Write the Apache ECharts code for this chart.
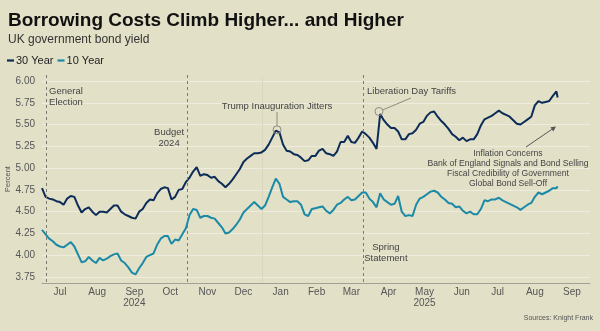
<!DOCTYPE html>
<html><head><meta charset="utf-8">
<script src="https://cdn.jsdelivr.net/npm/echarts@6/dist/echarts.min.js"></script>
<style>html,body{margin:0;padding:0;background:#e3e0c8}#c{width:600px;height:331px}</style>
</head><body><div id="c"></div>
<script>
const dates = [
'2024-07-01','2024-07-04','2024-07-07','2024-07-10','2024-07-13','2024-07-16','2024-07-19','2024-07-22','2024-07-25','2024-07-28','2024-07-31',
'2024-08-03','2024-08-06','2024-08-09','2024-08-12','2024-08-15','2024-08-18','2024-08-21','2024-08-24','2024-08-27','2024-08-30',
'2024-09-02','2024-09-05','2024-09-08','2024-09-11','2024-09-14','2024-09-17','2024-09-20','2024-09-23','2024-09-26','2024-09-29',
'2024-10-02','2024-10-05','2024-10-08','2024-10-11','2024-10-14','2024-10-17','2024-10-20','2024-10-23','2024-10-26','2024-10-29',
'2024-11-01','2024-11-04','2024-11-07','2024-11-10','2024-11-13','2024-11-16','2024-11-19','2024-11-22','2024-11-25','2024-11-28',
'2024-12-01','2024-12-04','2024-12-07','2024-12-10','2024-12-13','2024-12-16','2024-12-19','2024-12-22','2024-12-25','2024-12-28','2024-12-31',
'2025-01-03','2025-01-06','2025-01-09','2025-01-12','2025-01-15','2025-01-18','2025-01-21','2025-01-24','2025-01-27','2025-01-30',
'2025-02-02','2025-02-05','2025-02-08','2025-02-11','2025-02-14','2025-02-17','2025-02-20','2025-02-23','2025-02-26',
'2025-03-01','2025-03-04','2025-03-07','2025-03-10','2025-03-13','2025-03-16','2025-03-19','2025-03-22','2025-03-25','2025-03-28','2025-03-31',
'2025-04-03','2025-04-06','2025-04-09','2025-04-12','2025-04-15','2025-04-18','2025-04-21','2025-04-24','2025-04-27','2025-04-30',
'2025-05-03','2025-05-06','2025-05-09','2025-05-12','2025-05-15','2025-05-18','2025-05-21','2025-05-24','2025-05-27','2025-05-30',
'2025-06-02','2025-06-05','2025-06-08','2025-06-11','2025-06-14','2025-06-17','2025-06-20','2025-06-23','2025-06-26','2025-06-29',
'2025-07-02','2025-07-05','2025-07-08','2025-07-11','2025-07-14','2025-07-17','2025-07-20','2025-07-23','2025-07-26','2025-07-29',
'2025-08-01','2025-08-04','2025-08-07','2025-08-10','2025-08-13','2025-08-16','2025-08-19','2025-08-22','2025-08-25','2025-08-28','2025-08-31',
'2025-09-03','2025-09-04'
];
const yield30 = [
4.77,4.67,4.65,4.64,4.62,4.61,4.58,4.65,4.68,4.67,4.57,
4.49,4.53,4.55,4.50,4.46,4.50,4.50,4.49,4.53,4.57,
4.57,4.50,4.47,4.45,4.43,4.42,4.50,4.53,4.60,4.64,
4.63,4.71,4.76,4.78,4.77,4.64,4.67,4.75,4.76,4.84,
4.89,4.96,5.01,4.91,4.93,4.92,4.89,4.90,4.85,4.82,
4.78,4.82,4.87,4.93,4.99,5.07,5.11,5.14,5.17,5.17,5.18,
5.21,5.27,5.35,5.43,5.41,5.27,5.20,5.19,5.16,5.15,
5.12,5.08,5.09,5.14,5.14,5.20,5.22,5.17,5.16,
5.14,5.19,5.30,5.30,5.37,5.30,5.29,5.35,5.42,5.39,5.35,
5.29,5.22,5.62,5.55,5.50,5.46,5.46,5.42,5.33,5.33,
5.39,5.40,5.44,5.51,5.53,5.60,5.64,5.65,5.59,5.54,
5.50,5.45,5.39,5.36,5.32,5.35,5.31,5.33,5.33,5.39,
5.49,5.56,5.58,5.60,5.63,5.66,5.63,5.61,5.59,5.55,
5.51,5.50,5.53,5.56,5.59,5.72,5.77,5.75,5.76,5.77,5.83,
5.88,5.81
];
const yield10 = [
4.29,4.24,4.19,4.16,4.12,4.10,4.09,4.12,4.15,4.10,4.01,
3.92,3.93,3.98,3.94,3.91,3.97,3.94,3.96,3.99,4.01,
4.02,3.94,3.91,3.86,3.80,3.78,3.85,3.91,3.98,4.00,
4.02,4.12,4.19,4.22,4.22,4.13,4.18,4.17,4.24,4.31,
4.46,4.53,4.52,4.43,4.45,4.45,4.43,4.42,4.37,4.32,
4.25,4.26,4.30,4.35,4.41,4.49,4.53,4.57,4.61,4.57,4.53,
4.57,4.67,4.78,4.88,4.82,4.67,4.64,4.61,4.62,4.62,
4.58,4.47,4.45,4.53,4.54,4.55,4.56,4.51,4.48,
4.52,4.58,4.60,4.64,4.67,4.63,4.64,4.68,4.72,4.72,4.65,
4.61,4.55,4.71,4.64,4.61,4.58,4.59,4.68,4.50,4.45,
4.46,4.45,4.58,4.65,4.67,4.70,4.73,4.74,4.72,4.67,
4.64,4.60,4.59,4.55,4.56,4.51,4.48,4.50,4.47,4.47,
4.53,4.63,4.62,4.64,4.64,4.66,4.63,4.61,4.59,4.57,
4.55,4.52,4.55,4.58,4.60,4.67,4.72,4.70,4.72,4.74,4.77,
4.77,4.79
];
const monthTickDates = ['2024-07-16','2024-08-16','2024-09-16','2024-10-16','2024-11-16','2024-12-16','2025-01-16','2025-02-15','2025-03-16','2025-04-16','2025-05-16','2025-06-16','2025-07-16','2025-08-16','2025-09-16'];
const monthTickLabels = ['Jul','Aug','Sep\n2024','Oct','Nov','Dec','Jan','Feb','Mar','Apr','May\n2025','Jun','Jul','Aug','Sep'];
const eventDates = ['2024-07-04','2024-10-30','2025-03-26'];
const eventLabels = ['General\nElection','Budget\n2024','Spring\nStatement'];
const yearBoundary = '2025-01-01';
const trumpPoint = ['2025-01-13', 5.44];
const liberationPoint = ['2025-04-08', 5.65];

const toTime = s => { const p = s.split('-').map(Number); return Date.UTC(p[0], p[1]-1, p[2]); };
const tickTimes = monthTickDates.map(toTime);
const FONT = '"Liberation Sans", Arial, sans-serif';

const chart = echarts.init(document.getElementById('c'), null, {renderer: 'canvas'});
chart.setOption({
  backgroundColor: '#e3e0c8',
  animation: false,
  textStyle: {fontFamily: FONT},
  title: {
    left: 3, top: 6, itemGap: 4,
    text: 'Borrowing Costs Climb Higher... and Higher',
    textStyle: {fontSize: 19, fontWeight: 'bold', color: '#111', fontFamily: FONT},
    subtext: 'UK government bond yield',
    subtextStyle: {fontSize: 12, color: '#333', fontFamily: FONT}
  },
  legend: {
    left: 2, top: 50, icon: 'rect', itemWidth: 7, itemHeight: 2.2, itemGap: 4,
    textStyle: {fontSize: 11, color: '#222', padding: [0, 0, 0, -3]},
    data: ['30 Year', '10 Year']
  },
  grid: {left: 42, right: 10, top: 81, bottom: 54, containLabel: false, outerBoundsMode: 'none'},
  xAxis: {
    type: 'value',
    min: toTime('2024-07-01'), max: toTime('2025-10-01'),
    offset: 6,
    axisLine: {show: true, lineStyle: {color: '#a3a195', width: 1}},
    axisTick: {show: false},
    splitLine: {show: false},
    axisLabel: {
      customValues: tickTimes,
      fontSize: 10, color: '#555', margin: 4, lineHeight: 11,
      formatter: v => { let best = -1, bd = Infinity; tickTimes.forEach((t, i) => { const d = Math.abs(t - v); if (d < bd) { bd = d; best = i; } }); return bd < 86400000 ? monthTickLabels[best] : ''; }
    }
  },
  yAxis: {
    type: 'value', min: 3.75, max: 6.0, interval: 0.25,
    name: 'Percent', nameLocation: 'middle', nameGap: 30, nameRotate: 90, nameMoveOverlap: false,
    nameTextStyle: {fontSize: 7.5, color: '#555'},
    axisLine: {show: false}, axisTick: {show: false},
    axisLabel: {fontSize: 10, color: '#555', margin: 7, formatter: v => v.toFixed(2)},
    splitLine: {lineStyle: {color: '#eeecdc', width: 1}}
  },
  series: [
    {name: '30 Year', type: 'line', showSymbol: false, symbol: 'none', color: '#0c2c58',
     lineStyle: {width: 2, color: '#0c2c58'}, data: dates.map((d, i) => [toTime(d), yield30[i]])},
    {name: '10 Year', type: 'line', showSymbol: false, symbol: 'none', color: '#1a8aa6',
     lineStyle: {width: 2, color: '#1a8aa6'}, data: dates.map((d, i) => [toTime(d), yield10[i]])}
  ]
});

function px(d, v) { return chart.convertToPixel({gridIndex: 0}, [toTime(d), v]); }
const topY = 75, baseY = 283;
const g = [];
const ANN = {fontSize: 9.5, fill: '#444', fontFamily: FONT, lineHeight: 11};
const yb = px(yearBoundary, 5)[0];
g.push({type: 'line', z: 1, shape: {x1: yb, y1: 77, x2: yb, y2: baseY}, style: {stroke: '#d8d5c0', lineWidth: 1}});
eventDates.forEach(d => {
  const x = Math.round(px(d, 5)[0]) + 0.5;
  g.push({type: 'line', z: 5, shape: {x1: x, y1: topY, x2: x, y2: baseY}, style: {stroke: '#7d7b72', lineWidth: 1, lineDash: [3, 3]}});
});
const ex = eventDates.map(d => px(d, 5)[0]);
g.push({type: 'text', z: 10, x: ex[0] + 3.5, y: 86, style: Object.assign({text: eventLabels[0], align: 'left', verticalAlign: 'top'}, ANN)});
g.push({type: 'text', z: 10, x: ex[1] - 18, y: 127, style: Object.assign({text: eventLabels[1], align: 'center', verticalAlign: 'top'}, ANN)});
g.push({type: 'text', z: 10, x: ex[2] + 22.5, y: 242, style: Object.assign({text: eventLabels[2], align: 'center', verticalAlign: 'top'}, ANN)});
const tp = px(trumpPoint[0], trumpPoint[1]);
g.push({type: 'circle', z: 10, shape: {cx: tp[0], cy: tp[1], r: 4}, style: {fill: 'none', stroke: '#8d8b82', lineWidth: 1}});
g.push({type: 'line', z: 10, shape: {x1: tp[0], y1: 112, x2: tp[0], y2: tp[1] - 4}, style: {stroke: '#8d8b82', lineWidth: 1}});
g.push({type: 'text', z: 10, x: tp[0], y: 106, style: Object.assign({text: 'Trump Inauguration Jitters', align: 'center', verticalAlign: 'middle'}, ANN)});
const lp = px(liberationPoint[0], liberationPoint[1]);
{
  const sx = 411, sy = 98; const dx = lp[0] - sx, dy = lp[1] - sy; const L = Math.hypot(dx, dy);
  g.push({type: 'line', z: 10, shape: {x1: sx, y1: sy, x2: lp[0] - dx / L * 4, y2: lp[1] - dy / L * 4}, style: {stroke: '#8d8b82', lineWidth: 1}});
}
g.push({type: 'circle', z: 10, shape: {cx: lp[0], cy: lp[1], r: 4}, style: {fill: 'none', stroke: '#8d8b82', lineWidth: 1}});
g.push({type: 'text', z: 10, x: 367, y: 91, style: Object.assign({text: 'Liberation Day Tariffs', align: 'left', verticalAlign: 'middle'}, ANN)});
g.push({type: 'text', z: 10, x: 508, y: 148.3, style: Object.assign({}, ANN, {text: 'Inflation Concerns\nBank of England Signals and Bond Selling\nFiscal Credibility of Government\nGlobal Bond Sell-Off', align: 'center', verticalAlign: 'top', lineHeight: 10, fontSize: 8.6})});
{
  const x1 = 526, y1 = 147, x2 = 556, y2 = 126.5; const dx = x2 - x1, dy = y2 - y1; const L = Math.hypot(dx, dy); const ux = dx / L, uy = dy / L;
  const hl = 5, hw = 2.5;
  g.push({type: 'line', z: 10, shape: {x1: x1, y1: y1, x2: x2 - ux * hl, y2: y2 - uy * hl}, style: {stroke: '#555', lineWidth: 1}});
  g.push({type: 'polygon', z: 10, shape: {points: [[x2, y2], [x2 - ux * hl - uy * hw, y2 - uy * hl + ux * hw], [x2 - ux * hl + uy * hw, y2 - uy * hl - ux * hw]]}, style: {fill: '#555'}});
}
g.push({type: 'text', z: 10, right: 7, top: 315, style: {text: 'Sources: Knight Frank', fontSize: 7, fill: '#555', fontFamily: FONT}});
chart.setOption({graphic: g});
</script>
</body></html>
